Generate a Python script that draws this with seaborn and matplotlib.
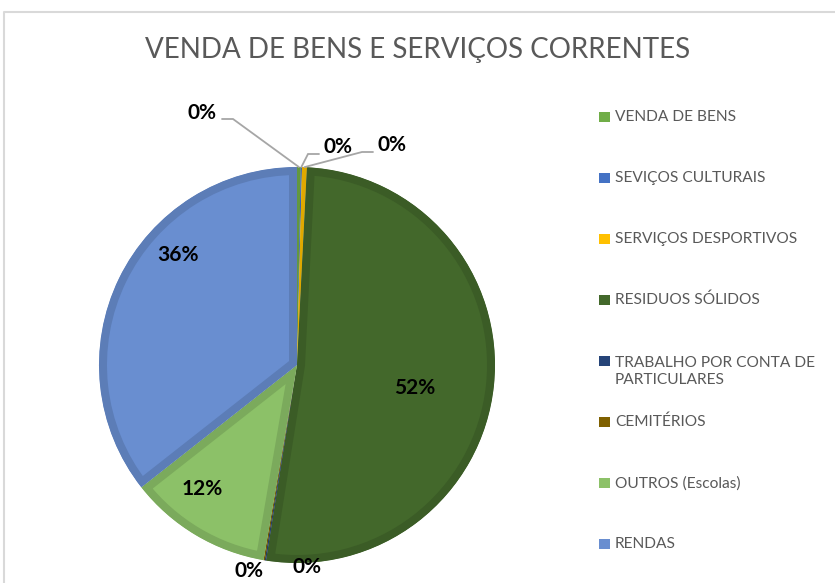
import matplotlib
matplotlib.use("Agg")
import matplotlib.pyplot as plt
import matplotlib.colors as mc
import numpy as np
import seaborn as sns

# ---------------- data ----------------
categories = ["VENDA DE BENS", "SEVIÇOS CULTURAIS", "SERVIÇOS DESPORTIVOS",
              "RESIDUOS SÓLIDOS", "TRABALHO POR CONTA DE PARTICULARES",
              "CEMITÉRIOS", "OUTROS (Escolas)", "RENDAS"]
legend_labels = ["VENDA DE BENS", "SEVIÇOS CULTURAIS", "SERVIÇOS DESPORTIVOS",
                 "RESIDUOS SÓLIDOS", "TRABALHO POR CONTA DE\nPARTICULARES",
                 "CEMITÉRIOS", "OUTROS (Escolas)", "RENDAS"]
values = [0.3, 0.1, 0.4, 51.7, 0.1, 0.1, 11.7, 35.6]
colors = ["#70AD47", "#4472C4", "#FFC000", "#43682B",
          "#264478", "#7F6000", "#8CC168", "#698ED0"]
title = "VENDA DE BENS E SERVIÇOS CORRENTES"

# ---------------- layout ----------------
W, H = 835, 583
CX, CY, R = 297, 365, 198
# label centres (pixel coords, y from top)
label_pos = [(202, 113), (338, 147), (392, 145), (415, 388),
             (307, 567), (249, 571), (202, 489), (178, 255)]
# leader lines: (text end x, elbow x, y) for the small top slices
leaders = {0: (222, 233, 119), 1: (319, 308, 154), 2: (373, 362, 152)}

sns.set_theme(style="white")
plt.rcParams['font.family'] = ['Lato', 'DejaVu Sans']

fig = plt.figure(figsize=(W / 100, H / 100), dpi=100)
ax = fig.add_axes([0, 0, 1, 1])


def P(x, y):
    return x, H - y


def darken(c, f=0.88):
    r, g, b = mc.to_rgb(c)
    return (r * f, g * f, b * f)


px2pt = 72 / 100

wedges, _ = ax.pie(values, colors=colors, startangle=90, counterclock=False,
                   center=P(CX, CY), radius=R,
                   wedgeprops=dict(linewidth=0))
for w, c in zip(wedges, colors):
    w.set_edgecolor(darken(c))
    w.set_linewidth(16 * px2pt)
    w.set_clip_on(True)
    w.set_clip_path(w)

ax.set_xlim(0, W)
ax.set_ylim(0, H)
ax.set_aspect('equal')
ax.axis('off')

total = sum(values)
for i, (v, w) in enumerate(zip(values, wedges)):
    pct = 100 * v / total
    lx, ly = label_pos[i]
    ax.text(*P(lx, ly), f"{pct:.0f}%", ha='center', va='center',
            fontsize=15, fontweight='bold', color='black')
    if i in leaders:
        tx, ex, y = leaders[i]
        th = np.deg2rad((w.theta1 + w.theta2) / 2)
        ax_x = CX + R * np.cos(th)
        ax_y = CY - R * np.sin(th)
        xs = [tx, ex, ax_x]
        ys = [H - y, H - y, H - ax_y]
        ax.plot(xs, ys, color='#A6A6A6', lw=1.3, clip_on=False,
                solid_joinstyle='miter')

# title
ax.text(*P(417.5, 50), title, ha='center', va='center', fontsize=20,
        fontweight='normal', color='#595959')

# legend
y0, step = 116.7, 61.1
for i, (lab, c) in enumerate(zip(legend_labels, colors)):
    yc = y0 + i * step
    ax.add_patch(plt.Rectangle((599, H - yc - 5), 11, 10, color=c, lw=0))
    n = lab.count("\n")
    ax.text(*P(615, yc + n * 10.5), lab, ha='left', va='center',
            fontsize=11.2, color='#595959', linespacing=1.3)

# chart frame
ax.plot([3.5, 3.5, W + 5], [-5, H - 11.5, H - 11.5], color='#D9D9D9',
        lw=1.5, clip_on=False)

fig.savefig("out.png", dpi=100)
